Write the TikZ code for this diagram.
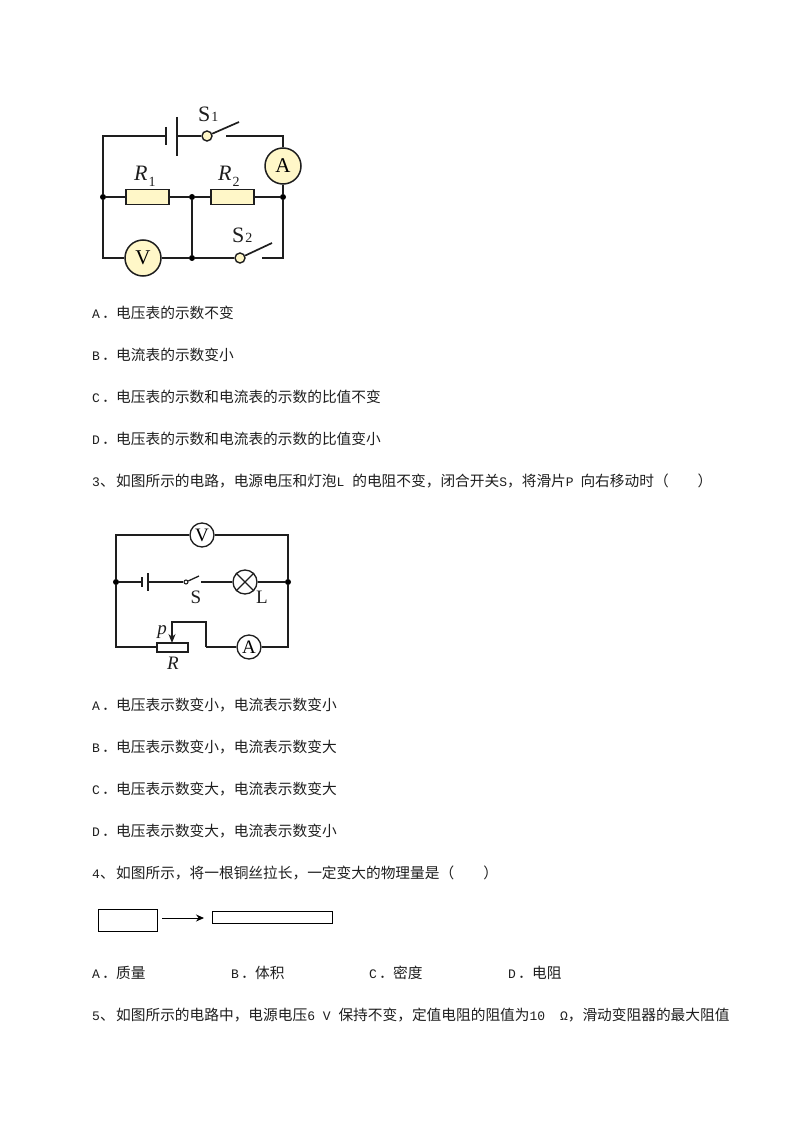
\documentclass[tikz,border=0pt]{standalone}
\usepackage{fontspec}
\setmainfont{Liberation Serif}
\newfontfamily\cjk{Noto Sans CJK SC}
\newfontfamily\lat{Liberation Mono}
\usetikzlibrary{arrows.meta, positioning}
\definecolor{paleyellow}{RGB}{255,247,200}
\definecolor{inkgray}{RGB}{30,30,30}
\tikzset{
	txt/.style={anchor=west, inner sep=0pt, text=inkgray, font=\fontsize{14.7}{15}\selectfont\cjk},
	wire/.style={line width=1.7pt, draw=inkgray},
	thinwire/.style={line width=1.3pt, draw=inkgray},
	meter/.style={circle, draw=inkgray, line width=1.5pt, fill=paleyellow, minimum size=36pt, inner sep=0pt, font=\fontsize{21}{21}\selectfont},
	smallmeter/.style={circle, draw=inkgray, line width=1.3pt, minimum size=24pt, inner sep=0pt, font=\fontsize{19}{19}\selectfont},
	res/.style={rectangle, draw=inkgray, line width=1.4pt, fill=paleyellow, minimum width=43pt, minimum height=15pt, inner sep=0pt},
	contact/.style={circle, draw=inkgray, line width=1.4pt, fill=paleyellow, minimum size=10pt, inner sep=0pt},
	dot/.style={circle, fill=black, minimum size=6pt, inner sep=0pt},
	lab/.style={inner sep=0pt, anchor=base west, text=inkgray, font=\fontsize{22}{22}\selectfont},
	smalllab/.style={inner sep=0pt, text=inkgray, font=\fontsize{19}{19}\selectfont},
	wirebox/.style={rectangle, draw=black, line width=1pt, inner sep=0pt},
}
\newcommand{\lt}[1]{{\lat\fontsize{13}{15}\selectfont #1}}
\newcommand{\hd}[1]{\makebox[24pt][l]{\lt{#1}、}}
\newcommand{\opt}[1]{\makebox[24pt][l]{\lt{#1}\hspace{2pt}．}}
\newcommand{\sub}[2]{\raisebox{#1}{\fontsize{14}{14}\selectfont\hspace{1pt}#2}}
\begin{document}
\begin{tikzpicture}[x=1pt, y=-1pt]
	\useasboundingbox (0,0) rectangle (794,1123);
	% first circuit
	\coordinate (tl) at (103,136);
	\coordinate (tr) at (283,136);
	\coordinate (bl) at (103,258);
	\coordinate (br) at (283,258);
	\coordinate (plateA) at (166,136);
	\coordinate (plateB) at (177,136);
	\coordinate (blade) at (239,122);
	\coordinate (gap) at (226,136);
	\coordinate (blade2) at (272,243);
	\coordinate (gap2) at (262,258);
	\node[contact] (s1) at (207,136) {};
	\node[contact] (s2) at (240,258) {};
	\node[meter] (amm) at (283,166) {A};
	\node[meter] (vol) at (143,258) {V};
	\node[res] (r1) at (147.5,197) {};
	\node[res] (r2) at (232.5,197) {};
	\node[dot] (jl) at (103,197) {};
	\node[dot] (jm) at (192,197) {};
	\node[dot] (jr) at (283,197) {};
	\node[dot] (jb) at (192,258) {};
	\node[lab] (s1lab) at (198,122) {S\sub{0pt}{1}};
	\node[lab] (r1lab) at (134,181) {\textit{R}\sub{-6pt}{1}};
	\node[lab] (r2lab) at (218,181) {\textit{R}\sub{-6pt}{2}};
	\node[lab] (s2lab) at (232,242) {S\sub{0pt}{2}};
	\draw[wire] (jl) -- (tl) -- (plateA);
	\draw[wire] (plateA) ++(0,-9) -- ++(0,18);
	\draw[wire] (plateB) ++(0,-19) -- ++(0,39);
	\draw[wire] (plateB) -- (s1);
	\draw[wire] (s1) -- (blade);
	\draw[wire] (gap) -- (tr) -- (amm);
	\draw[wire] (amm) -- (jr);
	\draw[wire] (jl) -- (r1);
	\draw[wire] (r1) -- (jm);
	\draw[wire] (jm) -- (r2);
	\draw[wire] (r2) -- (jr);
	\draw[wire] (jm) -- (jb);
	\draw[wire] (jl) -- (bl) -- (vol);
	\draw[wire] (vol) -- (jb);
	\draw[wire] (jb) -- (s2);
	\draw[wire] (s2) -- (blade2);
	\draw[wire] (gap2) -- (br) -- (jr);
	% options
	\node[txt] (q2a) at (92,313) {\opt{A}电压表的示数不变};
	\node[txt] (q2b) at (92,355) {\opt{B}电流表的示数变小};
	\node[txt] (q2c) at (92,397) {\opt{C}电压表的示数和电流表的示数的比值不变};
	\node[txt] (q2d) at (92,439) {\opt{D}电压表的示数和电流表的示数的比值变小};
	\node[txt] (q3) at (92,481) {\hd{3}如图所示的电路，电源电压和灯泡\lt{L }的电阻不变，闭合开关\lt{S}，将滑片\lt{P\hspace{-1pt} }向右移动时（\hspace{29pt}）};
	% second circuit
	\coordinate (tl2) at (116,535);
	\coordinate (tr2) at (288,535);
	\coordinate (bl2) at (116,647);
	\coordinate (br2) at (288,647);
	\coordinate (cellA) at (142,582);
	\coordinate (cellB) at (148,582);
	\coordinate (arm) at (199,576);
	\coordinate (gap3) at (201,582);
	\coordinate (wiper) at (172,643);
	\coordinate (wipertop) at (172,622);
	\coordinate (step1) at (206,622);
	\coordinate (step2) at (206,647);
	\node[smallmeter] (vol2) at (202,535) {V};
	\node[smallmeter] (amm2) at (249,647) {A};
	\node[smallmeter] (lamp) at (245,582) {};
	\node[circle, draw=inkgray, line width=1.1pt, fill=white, minimum size=4pt, inner sep=0pt] (s3) at (186,582) {};
	\node[rectangle, draw=inkgray, line width=1.1pt, minimum width=31pt, minimum height=9pt, inner sep=0pt] (rheo) at (172.5,647.5) {};
	\node[dot] (jl2) at (116,582) {};
	\node[dot] (jr2) at (288,582) {};
	\node[smalllab] (plab) at (162,632) {\textit{p}};
	\node[smalllab] (rlab) at (173,663) {\textit{R}};
	\node[smalllab] (slab) at (196,597) {S};
	\node[smalllab] (llab) at (262,597) {L};
	\draw[thinwire] (jl2) -- (tl2) -- (vol2);
	\draw[thinwire] (vol2) -- (tr2) -- (jr2);
	\draw[thinwire] (jl2) -- (cellA);
	\draw[thinwire] (cellA) ++(0,-5) -- ++(0,10);
	\draw[thinwire] (cellB) ++(0,-9) -- ++(0,18);
	\draw[thinwire] (cellB) -- (s3);
	\draw[thinwire] (s3) -- (arm);
	\draw[thinwire] (gap3) -- (lamp);
	\draw[thinwire] (lamp) -- (jr2);
	\draw[thinwire] (lamp.north west) -- (lamp.south east);
	\draw[thinwire] (lamp.north east) -- (lamp.south west);
	\draw[thinwire] (jl2) -- (bl2) -- (rheo.west |- bl2);
	\draw[thinwire, -{Stealth[length=9pt, width=7pt]}] (step2) -- (step1) -- (wipertop) -- (wiper);
	\draw[thinwire] (step2) -- (amm2);
	\draw[thinwire] (amm2) -- (br2) -- (jr2);
	% options
	\node[txt] (q3a) at (92,705) {\opt{A}电压表示数变小，电流表示数变小};
	\node[txt] (q3b) at (92,747) {\opt{B}电压表示数变小，电流表示数变大};
	\node[txt] (q3c) at (92,789) {\opt{C}电压表示数变大，电流表示数变大};
	\node[txt] (q3d) at (92,831) {\opt{D}电压表示数变大，电流表示数变小};
	\node[txt] (q4) at (92,873) {\hd{4}如图所示，将一根铜丝拉长，一定变大的物理量是（\hspace{29pt}）};
	% wire stretched
	\node[wirebox, minimum width=59pt, minimum height=22pt] (short) at (127.5,920) {};
	\node[wirebox, minimum width=120pt, minimum height=12pt] (long) at (272,917) {};
	\coordinate (arrowa) at (162,918);
	\coordinate (arrowb) at (204,918);
	\draw[line width=1pt, -{Stealth[length=8pt, width=7pt]}] (arrowa) -- (arrowb);
	\node[txt] (q4a) at (92,973) {\opt{A}质量};
	\node[txt] (q4b) at (231,973) {\opt{B}体积};
	\node[txt] (q4c) at (369,973) {\opt{C}密度};
	\node[txt] (q4d) at (508,973) {\opt{D}电阻};
	\node[txt] (q5) at (92,1015) {\hd{5}如图所示的电路中，电源电压\lt{6 V }保持不变，定值电阻的阻值为\lt{10 \hspace{7pt}Ω}，滑动变阻器的最大阻值};
\end{tikzpicture}
\end{document}
